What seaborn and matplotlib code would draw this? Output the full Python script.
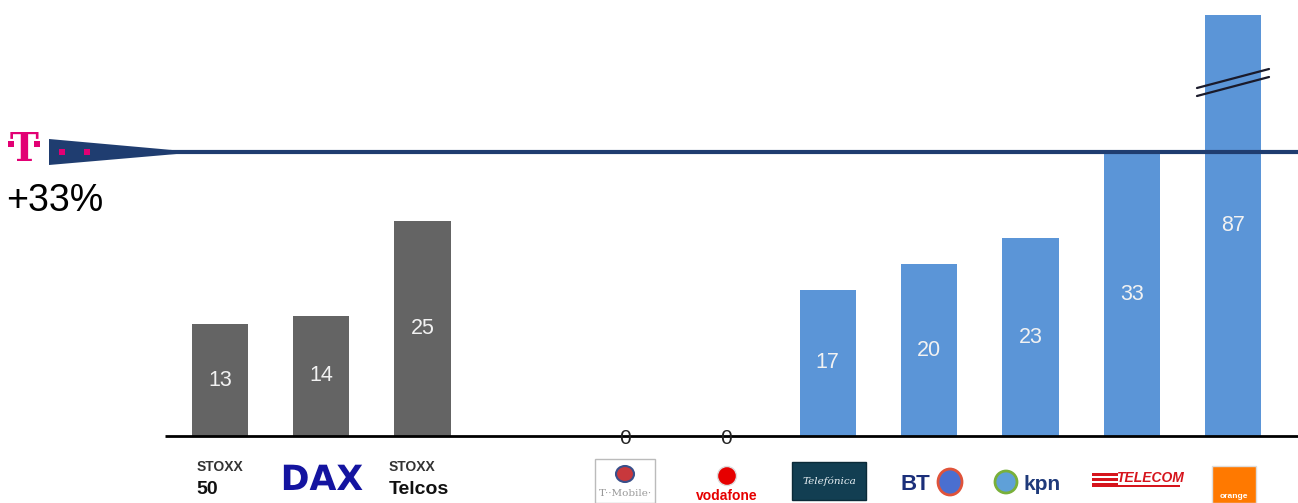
import matplotlib
matplotlib.use("Agg")
import matplotlib.pyplot as plt
import matplotlib.patches as mpatches
import matplotlib.patheffects as pe
import seaborn as sns
import pandas as pd
import numpy as np

# ---- data ----
categories = ["STOXX 50", "DAX", "STOXX Telcos", "", "T-Mobile", "Vodafone",
              "Telefonica", "BT", "KPN", "Telecom Italia", "Orange"]
values = [13, 14, 25, np.nan, 0, 0, 17, 20, 23, 33, 87]
groups = ["index", "index", "index", "none", "peer", "peer",
          "peer", "peer", "peer", "peer", "peer"]
dt_value = 33
dt_label = "+33%"
axis_cap = 49  # bars above this are drawn broken

W, H = 1298, 503
sns.set_theme(style="white")
plt.rcParams['font.family'] = ['Liberation Sans', 'DejaVu Sans']

fig = plt.figure(figsize=(W / 100, H / 100), dpi=100)
ax = fig.add_axes([0, 0, 1, 1])

df = pd.DataFrame({"cat": categories, "val": values, "grp": groups})
df["disp"] = df["val"].clip(upper=axis_cap)
palette = {"index": "#646464", "peer": "#5b95d7", "none": "#ffffff"}
sns.barplot(data=df, x="cat", y="disp", hue="grp", palette=palette,
            order=categories, dodge=False, width=0.555, linewidth=0,
            saturation=1, legend=False, ax=ax)

# pixel mapping: x=220px for slot 0, 101.3px spacing; baseline 436px, 8.6 px/unit
sp, x0, base, k = 101.3, 220, 436, 8.6
ax.set_xlim(-x0 / sp, (W - x0) / sp)
ax.set_ylim(-(H - base) / k, base / k)
ax.axis("off")

def fx(px):
    return px / W
def fy(py):
    return 1 - py / H
ft = fig.transFigure

# baseline
ax.plot([fx(165), 1], [fy(436), fy(436)], color="black", lw=2, transform=ft, solid_capstyle="butt")
# DT line at 33
yline = base - dt_value * k
ax.axhline(dt_value, xmin=fx(170), xmax=1, color="#1f3d70", lw=3, zorder=5)
wedge = mpatches.Polygon([[fx(49), fy(139)], [fx(49), fy(165)], [fx(180), fy(yline + 1.5)],
                          [fx(180), fy(yline - 1.5)]], closed=True, transform=ft,
                         facecolor="#1f3d70", edgecolor="none")
fig.patches.append(wedge)
for px in (62, 87):
    fig.patches.append(mpatches.Rectangle((fx(px - 3), fy(yline + 3)), 6 / W, 6 / H,
                                          transform=ft, facecolor="#e20074", edgecolor="none"))
# T logo
fig.text(fx(24), fy(150), "T", transform=ft, ha="center", va="center", fontsize=28,
         color="#e20074", family="DejaVu Serif", weight="bold")
for px in (11, 37):
    fig.patches.append(mpatches.Rectangle((fx(px - 3), fy(147)), 6 / W, 6 / H,
                                          transform=ft, facecolor="#e20074", edgecolor="none"))
fig.text(fx(6), fy(201), dt_label, transform=ft, ha="left", va="center", fontsize=27, color="black")

# value labels
for i, (v, d) in enumerate(zip(df["val"], df["disp"])):
    if np.isnan(v):
        continue
    if v == 0:
        ax.text(i, -0.25, "0", ha="center", va="center", fontsize=15, color="#222222", zorder=6)
    else:
        ax.text(i, d / 2, f"{int(v)}", ha="center", va="center", fontsize=15.5, color="#f2f2f2")

# break marks on capped bar
for i, v in enumerate(df["val"]):
    if not np.isnan(v) and v > axis_cap:
        cx = x0 + sp * i
        for off in (0, 8):
            ax.plot([fx(cx - 36), fx(cx + 36)], [fy(88 + off), fy(69 + off)], color="#1a1a2a",
                    lw=1.6, transform=ft)

# ---- logos as text ----
fig.text(fx(197), fy(467), "STOXX", transform=ft, ha="left", va="center", fontsize=10,
         weight="bold", color="#333333")
fig.text(fx(196), fy(490), "50", transform=ft, ha="left", va="center", fontsize=14,
         weight="bold", color="#111111")
fig.text(fx(322), fy(480), "DAX", transform=ft, ha="center", va="center", fontsize=25,
         weight="heavy", color="#1414a0", family="DejaVu Sans",
         path_effects=[pe.withStroke(linewidth=1.2, foreground="white")])
fig.text(fx(389), fy(467), "STOXX", transform=ft, ha="left", va="center", fontsize=10,
         weight="bold", color="#333333")
fig.text(fx(389), fy(490), "Telcos", transform=ft, ha="left", va="center", fontsize=14,
         weight="bold", color="#111111")
# T-Mobile
fig.patches.append(mpatches.Rectangle((fx(595), fy(503)), 60 / W, 44 / H, transform=ft,
                                      facecolor="white", edgecolor="#bbbbbb", lw=1))
fig.patches.append(mpatches.Ellipse((fx(625), fy(474)), 18 / W, 16 / H, transform=ft,
                                    facecolor="#c8383c", edgecolor="#3a4f8a", lw=1.5))
fig.text(fx(625), fy(493), "T··Mobile·", transform=ft, ha="center", va="center", fontsize=7.5,
         family="DejaVu Serif", color="#999999")
# Vodafone
fig.patches.append(mpatches.Ellipse((fx(727), fy(476)), 19 / W, 19 / H, transform=ft,
                                    facecolor="#e60000", edgecolor="#dddddd", lw=1))
fig.text(fx(727), fy(496), "vodafone", transform=ft, ha="center", va="center", fontsize=10,
         weight="bold", color="#e60000")
# Telefonica
fig.patches.append(mpatches.Rectangle((fx(792), fy(500)), 74 / W, 38 / H, transform=ft,
                                      facecolor="#123e52", edgecolor="#0b2a38", lw=1))
fig.text(fx(829), fy(481), "Telefónica", transform=ft, ha="center", va="center", fontsize=7.5,
         style="italic", family="DejaVu Serif", color="#e8f0f4")
# BT
fig.text(fx(915), fy(484), "BT", transform=ft, ha="center", va="center", fontsize=16,
         weight="bold", color="#1b2f7a")
fig.patches.append(mpatches.Ellipse((fx(950), fy(482)), 24 / W, 26 / H, transform=ft,
                                    facecolor="#4a6fd0", edgecolor="#e0533a", lw=2))
# KPN
fig.patches.append(mpatches.Ellipse((fx(1006), fy(482)), 22 / W, 22 / H, transform=ft,
                                    facecolor="#5fa0d8", edgecolor="#79b03a", lw=2))
fig.text(fx(1042), fy(484), "kpn", transform=ft, ha="center", va="center", fontsize=15,
         weight="bold", color="#1f3a7a")
# Telecom Italia
for j in range(3):
    fig.patches.append(mpatches.Rectangle((fx(1092), fy(476 + j * 5)), 26 / W, 3 / H, transform=ft,
                                          facecolor="#d6141c", edgecolor="none"))
fig.text(fx(1150), fy(478), "TELECOM", transform=ft, ha="center", va="center", fontsize=10,
         weight="bold", style="italic", color="#d6141c")
fig.patches.append(mpatches.Rectangle((fx(1092), fy(487)), 88 / W, 2 / H, transform=ft,
                                      facecolor="#d6141c", edgecolor="none"))
# Orange
fig.patches.append(mpatches.Rectangle((fx(1212), fy(503)), 44 / W, 37 / H, transform=ft,
                                      facecolor="#ff7900", edgecolor="#dddddd", lw=1))
fig.text(fx(1234), fy(496), "orange", transform=ft, ha="center", va="center", fontsize=6,
         weight="bold", color="white")

fig.savefig("out.png", dpi=100)
